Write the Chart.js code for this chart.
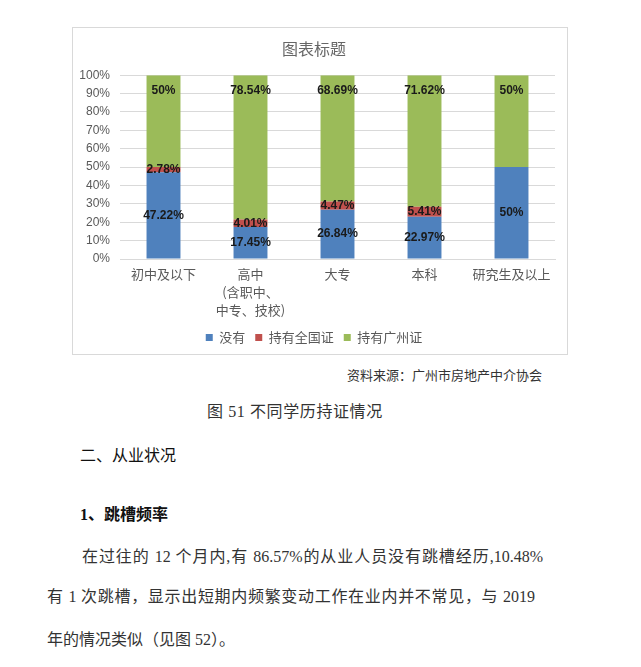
<!DOCTYPE html>
<html lang="zh-CN">
<head>
    <meta charset="UTF-8">
    <title>不同学历持证情况</title>
    <script src="https://cdn.jsdelivr.net/npm/chart.js@4"></script>
    <style>
        body { margin: 0; background: #fff; width: 641px; height: 667px; position: relative; overflow: hidden;
               font-family: 'Liberation Serif', 'Noto Sans CJK SC', serif; color: #333; }
        .chart-box { position: absolute; left: 72px; top: 27px; width: 494px; height: 326px; border: 1px solid #d9d9d9; }
        .txt { position: absolute; line-height: 20px; white-space: nowrap; }
        .just { text-align: justify; text-align-last: justify; }
    </style>
</head>
<body>
    <div class="chart-box">
        <canvas id="certChart" width="494" height="326"></canvas>
    </div>

    <div class="txt" style="left:347px; top:366px; font-size:13px;">资料来源：广州市房地产中介协会</div>
    <div class="txt" style="left:207px; top:402px; font-size:16px; letter-spacing:0.6px;">图 51 不同学历持证情况</div>
    <div class="txt" style="left:80px; top:444px; font-size:16px; color:#111; font-family:'Noto Sans CJK SC', sans-serif;">二、从业状况</div>
    <div class="txt" style="left:80px; top:505px; font-size:16px; color:#111; font-weight:bold;">1、跳槽频率</div>
    <div class="txt just" style="left:82px; top:547px; width:461px; font-size:16px;">在过往的 12 个月内,有 86.57%的从业人员没有跳槽经历,10.48%</div>
    <div class="txt just" style="left:47px; top:587px; width:488px; font-size:16px;">有 1 次跳槽，显示出短期内频繁变动工作在业内并不常见，与 2019</div>
    <div class="txt" style="left:47px; top:630px; font-size:16px;">年的情况类似（见图 52）。</div>

    <script>
        // chart data
        const categories = ['初中及以下', ['高中', '(含职中、', '中专、技校)'], '大专', '本科', '研究生及以上'];
        const seriesNames = ['没有', '持有全国证', '持有广州证'];
        const noCert = [47.22, 17.45, 26.84, 22.97, 50];
        const nationalCert = [2.78, 4.01, 4.47, 5.41, 0];
        const guangzhouCert = [50, 78.54, 68.69, 71.62, 50];
        const yTicks = [0, 10, 20, 30, 40, 50, 60, 70, 80, 90, 100];

        Chart.defaults.font.family = "'Liberation Sans', 'Noto Sans CJK SC', sans-serif";
        Chart.defaults.color = '#595959';

        // draws the value labels on each segment
        const segmentLabels = {
            id: 'segmentLabels',
            afterDatasetsDraw(chart) {
                const ctx = chart.ctx;
                ctx.save();
                ctx.font = "bold 12px 'Liberation Sans', sans-serif";
                ctx.fillStyle = '#1a1a1a';
                ctx.textAlign = 'center';
                ctx.textBaseline = 'middle';
                chart.data.datasets.forEach((ds, di) => {
                    const meta = chart.getDatasetMeta(di);
                    meta.data.forEach((bar, i) => {
                        const v = ds.data[i];
                        if (!v) return;
                        const p = bar.getProps(['x', 'y', 'base'], true);
                        const y = di === 2 ? p.y + 15 : (p.y + p.base) / 2;
                        ctx.fillText(v + '%', p.x, y);
                    });
                });
                ctx.restore();
            }
        };

        const ctx = document.getElementById('certChart').getContext('2d');
        new Chart(ctx, {
            type: 'bar',
            data: {
                labels: categories,
                datasets: [
                    { label: seriesNames[0], data: noCert, backgroundColor: '#4f81bd' },
                    { label: seriesNames[1], data: nationalCert, backgroundColor: '#c0504d' },
                    { label: seriesNames[2], data: guangzhouCert, backgroundColor: '#9bbb59' }
                ]
            },
            options: {
                responsive: false,
                animation: false,
                barPercentage: 0.39,
                categoryPercentage: 1,
                layout: { padding: { left: 0, right: 12, top: 0, bottom: 0 } },
                plugins: {
                    title: {
                        display: true,
                        text: '图表标题',
                        color: '#666',
                        font: { size: 16, weight: 'normal', family: "'Noto Sans CJK SC', sans-serif" },
                        padding: { top: 11, bottom: 17 }
                    },
                    legend: {
                        position: 'bottom',
                        labels: {
                            boxWidth: 7,
                            boxHeight: 7,
                            padding: 10,
                            color: '#595959',
                            font: { size: 13, family: "'Noto Sans CJK SC', sans-serif" }
                        }
                    },
                    tooltip: { enabled: false }
                },
                scales: {
                    x: {
                        stacked: true,
                        grid: { display: false },
                        border: { color: '#d9d9d9' },
                        ticks: {
                            padding: -2,
                            color: '#595959',
                            maxRotation: 0,
                            autoSkip: false,
                            font: { size: 13, lineHeight: 1.4, family: "'Noto Sans CJK SC', sans-serif" }
                        },
                        afterFit: (scale) => { scale.height = 62; }
                    },
                    y: {
                        stacked: true,
                        min: 0,
                        max: 100,
                        afterBuildTicks: (scale) => { scale.ticks = yTicks.map(v => ({ value: v })); },
                        grid: { color: '#d9d9d9', drawTicks: false },
                        border: { display: false },
                        ticks: {
                            padding: 10,
                            color: '#595959',
                            font: { size: 12 },
                            callback: (v) => v + '%'
                        },
                        afterFit: (scale) => { scale.width = 47; }
                    }
                }
            },
            plugins: [segmentLabels]
        });
    </script>
</body>
</html>
